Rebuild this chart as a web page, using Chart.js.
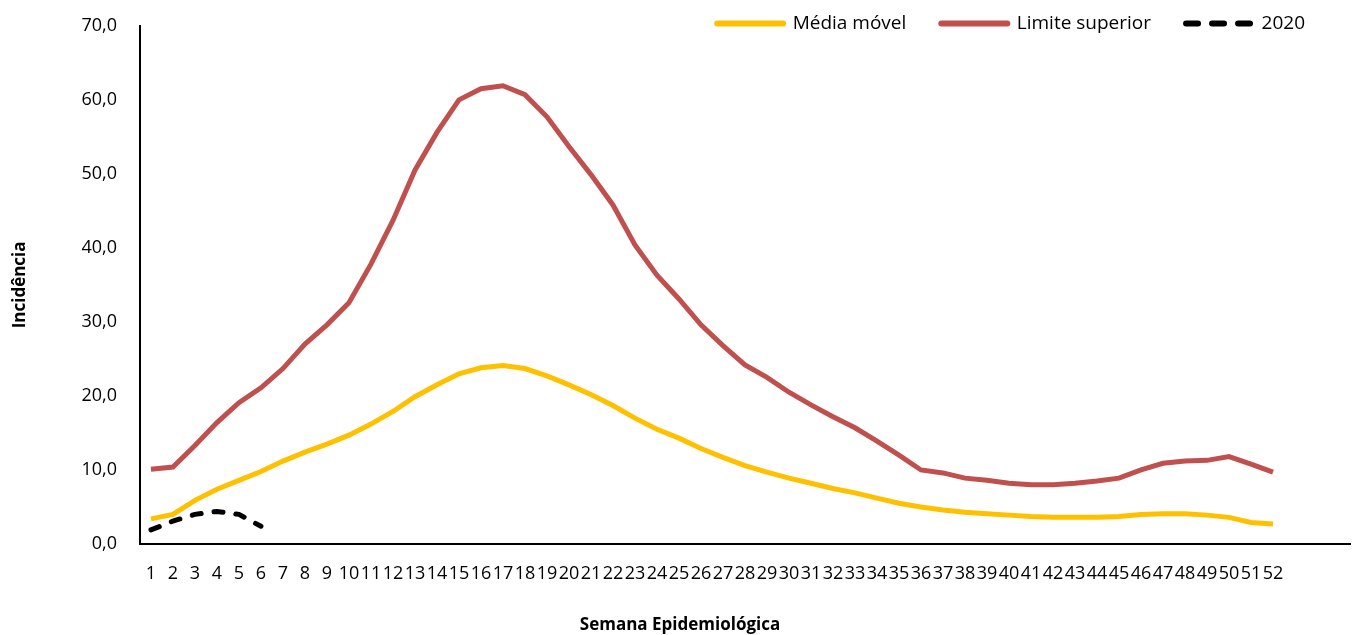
<!DOCTYPE html>
<html lang="pt">
<head>
    <meta charset="UTF-8">
    <title>Incidência por Semana Epidemiológica</title>
    <script src="https://cdn.jsdelivr.net/npm/chart.js"></script>
    <style>
        body {
            margin: 0;
            background-color: #ffffff;
        }

        #wrap {
            width: 1360px;
            height: 635px;
        }
    </style>
</head>
<body>

    <div id="wrap"><canvas id="incChart"></canvas></div>

    <script>
        // semanas 1-52 (+3 vazias no fim, como no original)
        var semanas = [];
        for (var i = 1; i <= 52; i++) semanas.push(String(i));
        semanas.push('', '', '');

        var mediaMovel = [3.4, 4.0, 5.9, 7.4, 8.6, 9.8, 11.2, 12.4, 13.5, 14.7,
            16.2, 17.9, 19.9, 21.5, 23.0, 23.8, 24.1, 23.7, 22.7, 21.5,
            20.2, 18.7, 17.0, 15.5, 14.3, 12.9, 11.7, 10.6, 9.7, 8.9,
            8.2, 7.5, 6.9, 6.2, 5.5, 5.0, 4.6, 4.3, 4.1, 3.9,
            3.7, 3.6, 3.6, 3.6, 3.7, 4.0, 4.1, 4.1, 3.9, 3.6,
            2.9, 2.7];

        var limiteSuperior = [10.1, 10.4, 13.3, 16.4, 19.1, 21.1, 23.7, 27.0, 29.6, 32.6,
            37.8, 43.7, 50.5, 55.6, 60.0, 61.5, 61.9, 60.7, 57.7, 53.7,
            49.9, 45.8, 40.4, 36.3, 33.1, 29.6, 26.8, 24.2, 22.5, 20.5,
            18.8, 17.2, 15.7, 13.9, 12.0, 10.0, 9.6, 8.9, 8.6, 8.2,
            8.0, 8.0, 8.2, 8.5, 8.9, 10.0, 10.9, 11.2, 11.3, 11.8,
            10.8, 9.7];

        var ano2020 = [1.9, 3.1, 4.0, 4.4, 4.0, 2.4];

        var yTicks = [0, 10, 20, 30, 40, 50, 60, 70];

        // legenda por cima da área do gráfico (não ocupa espaço no layout)
        var legendOverlay = {
            id: 'legendOverlay',
            beforeInit: function (chart) {
                var origFit = chart.legend.fit;
                chart.legend.fit = function () {
                    origFit.bind(chart.legend)();
                    this.height = 0;
                };
            },
            beforeDraw: function (chart) {
                var lg = chart.legend;
                var pad = lg.options.labels.padding;
                lg.top = 21 - pad - 7;
                lg.bottom = lg.top + 80;
                lg.right = chart.width - 20;
            }
        };

        var ctx = document.getElementById('incChart').getContext('2d');
        var incChart = new Chart(ctx, {
            type: 'line',
            data: {
                labels: semanas,
                datasets: [{
                    label: 'Média móvel',
                    data: mediaMovel,
                    borderColor: '#ffc000',
                    backgroundColor: '#ffc000',
                    borderWidth: 5,
                    pointRadius: 0,
                    tension: 0,
                    order: 2
                }, {
                    label: 'Limite superior',
                    data: limiteSuperior,
                    borderColor: '#c0504d',
                    backgroundColor: '#c0504d',
                    borderWidth: 5,
                    pointRadius: 0,
                    tension: 0,
                    order: 1
                }, {
                    label: '2020',
                    data: ano2020,
                    borderColor: '#000000',
                    backgroundColor: '#000000',
                    borderWidth: 5,
                    borderDash: [9, 13],
                    borderCapStyle: 'round',
                    pointRadius: 0,
                    tension: 0,
                    order: 0
                }]
            },
            options: {
                responsive: true,
                maintainAspectRatio: false,
                animation: false,
                layout: {
                    padding: { left: 10, right: 10, top: 0, bottom: 0 }
                },
                plugins: {
                    legend: {
                        position: 'top',
                        align: 'end',
                        labels: {
                            usePointStyle: true,
                            pointStyle: 'line',
                            pointStyleWidth: 66,
                            padding: 35,
                            color: '#000',
                            font: { family: 'Open Sans', size: 19 },
                            sort: function (a, b) { return a.datasetIndex - b.datasetIndex; },
                            generateLabels: function (chart) {
                                var items = Chart.defaults.plugins.legend.labels.generateLabels(chart);
                                items.forEach(function (it) {
                                    var ds = chart.data.datasets[it.datasetIndex];
                                    it.strokeStyle = ds.borderColor;
                                    it.lineWidth = 6;
                                    it.lineCap = 'round';
                                    it.lineDash = ds.borderDash ? [12, 14] : [];
                                });
                                return items;
                            }
                        }
                    },
                    title: {
                        display: true,
                        position: 'bottom',
                        text: 'Semana Epidemiológica',
                        color: '#000',
                        font: { family: 'Open Sans', size: 17, weight: 'bold' },
                        padding: { top: 19, bottom: 0 }
                    },
                    tooltip: { enabled: false }
                },
                scales: {
                    x: {
                        offset: true,
                        grid: { display: false },
                        border: { display: true, color: '#000', width: 2 },
                        ticks: {
                            autoSkip: false,
                            maxRotation: 0,
                            padding: 11,
                            color: '#000',
                            font: { family: 'Open Sans', size: 18 }
                        }
                    },
                    y: {
                        min: 0,
                        max: 70,
                        afterBuildTicks: function (axis) {
                            axis.ticks = yTicks.map(function (v) { return { value: v }; });
                        },
                        grid: { display: false },
                        border: { display: true, color: '#000', width: 2 },
                        title: {
                            display: true,
                            text: 'Incidência',
                            color: '#000',
                            font: { family: 'Open Sans', size: 17, weight: 'bold' },
                            padding: { top: 0, bottom: 36 }
                        },
                        ticks: {
                            padding: 15,
                            color: '#000',
                            font: { family: 'Open Sans', size: 18 },
                            callback: function (v) {
                                return v.toFixed(1).replace('.', ',');
                            }
                        }
                    }
                }
            },
            plugins: [legendOverlay]
        });
    </script>

</body>
</html>
